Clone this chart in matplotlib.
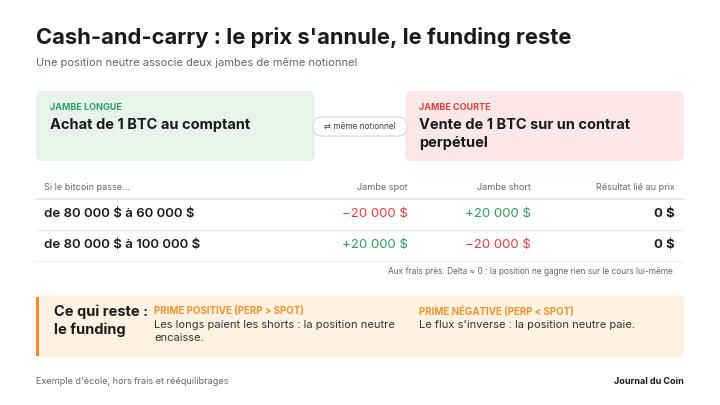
import matplotlib.pyplot as plt
from matplotlib.patches import FancyBboxPatch, Rectangle

plt.rcParams['font.family'] = ['Inter', 'DejaVu Sans']
plt.rcParams['text.parse_math'] = False

scenarios = ["de 80 000 $ à 60 000 $", "de 80 000 $ à 100 000 $"]
spot_leg = [-20000, 20000]
short_leg = [20000, -20000]
price_result = [0, 0]
headers = ["Si le bitcoin passe…", "Jambe spot", "Jambe short", "Résultat lié au prix"]

GREEN = "#2e9e5b"
RED = "#d9423c"
ORANGE = "#f0922e"
DARK = "#1a1a1a"
GRAY = "#666666"


def fmt(v, signed=True):
    s = f"{abs(v):,}".replace(",", " ") + " $"
    if not signed or v == 0:
        return s
    return ("+" if v > 0 else "\u2212") + s


def col(v):
    return GREEN if v > 0 else RED if v < 0 else DARK


fig = plt.figure(figsize=(7.2, 4.05), dpi=100)
ax = fig.add_axes([0, 0, 1, 1])
ax.set_xlim(0, 720)
ax.set_ylim(405, 0)
ax.axis("off")

ax.text(36, 38, "Cash-and-carry : le prix s'annule, le funding reste", fontsize=15.8,
        fontweight="bold", color=DARK, va="center")
ax.text(36, 63, "Une position neutre associe deux jambes de même notionnel", fontsize=8,
        color=GRAY, va="center")

# leg boxes
for x0, fc, lc, label, txt in [
    (36, "#e6f4ec", GREEN, "JAMBE LONGUE", "Achat de 1 BTC au comptant"),
    (405, "#fce8e8", RED, "JAMBE COURTE", "Vente de 1 BTC sur un contrat\nperpétuel"),
]:
    ax.add_patch(FancyBboxPatch((x0, 91), 279, 70, boxstyle="round,pad=0,rounding_size=7",
                                fc=fc, ec="none"))
    ax.text(x0 + 14, 107, label, fontsize=6.5, fontweight="bold", color=lc, va="center")
    ax.text(x0 + 14, 118, txt, fontsize=10.5, fontweight="bold", color=DARK, va="top",
            linespacing=1.35)

ax.add_patch(FancyBboxPatch((313, 117), 94, 19, boxstyle="round,pad=0,rounding_size=9",
                            fc="white", ec="#dddddd", lw=1))
ax.text(360, 126.5, "⇄ même notionnel", fontsize=6, color="#444444", ha="center", va="center")

# table
col_x = [44, 408, 531, 675]
for i, h in enumerate(headers):
    ax.text(col_x[i], 188, h, fontsize=6.5, color=GRAY, va="center",
            ha="left" if i == 0 else "right")
ax.plot([36, 684], [199, 199], color="#e3e3e8", lw=1.2)
for r, name in enumerate(scenarios):
    y = 214 + r * 31
    ax.text(col_x[0], y, name, fontsize=9.5, fontweight="semibold", color=DARK, va="center")
    ax.text(col_x[1], y, fmt(spot_leg[r]), fontsize=9.5, color=col(spot_leg[r]),
            ha="right", va="center")
    ax.text(col_x[2], y, fmt(short_leg[r]), fontsize=9.5, color=col(short_leg[r]),
            ha="right", va="center")
    ax.text(col_x[3], y, fmt(price_result[r]), fontsize=9.5, fontweight="bold", color=DARK,
            ha="right", va="center")
    ax.plot([36, 684], [y + 16, y + 16], color="#efefef", lw=1)

ax.text(675, 272, "Aux frais près. Delta ≈ 0 : la position ne gagne rien sur le cours lui-même.",
        fontsize=6, color=GRAY, ha="right", va="center")

# funding box
ax.add_patch(FancyBboxPatch((36, 295), 648, 63, boxstyle="round,pad=0,rounding_size=6",
                            fc="#fef3e2", ec="none"))
ax.add_patch(Rectangle((36, 297), 2.5, 59, fc="#f28c28", ec="none"))
ax.text(54, 321, "Ce qui reste :\nle funding", fontsize=10.5, fontweight="bold", color=DARK,
        va="center", linespacing=1.3)
ax.text(154, 311, "PRIME POSITIVE (PERP > SPOT)", fontsize=7, fontweight="bold",
        color=ORANGE, va="center")
ax.text(154, 320, "Les longs paient les shorts : la position neutre\nencaisse.", fontsize=8,
        color="#333333", va="top", linespacing=1.4)
ax.text(419, 311, "PRIME NÉGATIVE (PERP < SPOT)", fontsize=7, fontweight="bold",
        color=ORANGE, va="center")
ax.text(419, 320, "Le flux s'inverse : la position neutre paie.", fontsize=8,
        color="#333333", va="top", linespacing=1.4)

ax.text(36, 382, "Exemple d'école, hors frais et rééquilibrages", fontsize=6.5, color=GRAY,
        va="center")
ax.text(684, 382, "Journal du Coin", fontsize=6.5, fontweight="bold", color=DARK,
        ha="right", va="center")

fig.savefig("out.png", dpi=100, facecolor="white")
